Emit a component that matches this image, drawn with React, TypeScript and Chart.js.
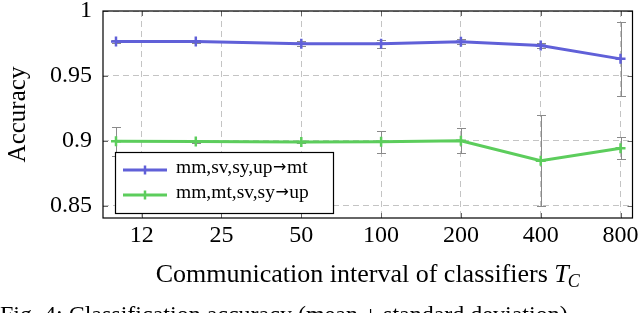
import React, { useEffect, useRef } from 'react';
import { Chart, registerables } from 'chart.js';

Chart.register(...registerables);

const xValues = [10, 20, 50, 100, 200, 400, 800];
const xTickValues = [12.5, 25, 50, 100, 200, 400, 800];
const xTickLabels = ['12', '25', '50', '100', '200', '400', '800'];
const yTickValues = [0.85, 0.9, 0.95, 1];
const yTickLabels = ['0.85', '0.9', '0.95', '1'];
const seriesLabels = ['mm,sv,sy,up→mt', 'mm,mt,sv,sy→up'];
const blueMean = [0.9765, 0.9765, 0.9747, 0.9747, 0.9763, 0.9734, 0.9631];
const blueStd = [0.0015, 0.001, 0.002, 0.003, 0.002, 0.0023, 0.0285];
const greenMean = [0.8995, 0.8993, 0.899, 0.8992, 0.9, 0.8845, 0.8941];
const greenStd = [0.011, 0.001, 0.001, 0.0085, 0.0098, 0.035, 0.0085];
const xTitle = 'Communication interval of classifiers ';
const xTitleVar = 'T';
const xTitleSub = 'C';
const yTitle = 'Accuracy';
const caption = 'Fig. 4: Classification accuracy (mean ± standard deviation)';

const SERIF = "'Liberation Serif', 'Times New Roman', serif";
const ARROW_FONT = "'DejaVu Sans', sans-serif";
const COLORS = ['#6060d8', '#5ccd5c'];

export default function App() {
  const ref = useRef<HTMLCanvasElement>(null);

  useEffect(() => {
    const canvas = ref.current;
    if (!canvas) return;
    const means = [blueMean, greenMean];
    const stds = [blueStd, greenStd];

    const errorBars = {
      id: 'errorBars',
      beforeDatasetsDraw(chart: any) {
        const { ctx, scales } = chart;
        const x = scales.x;
        const y = scales.y;
        ctx.save();
        ctx.strokeStyle = '#8a8a8a';
        ctx.lineWidth = 1;
        means.forEach((m, i) => {
          m.forEach((v, j) => {
            const px = Math.round(x.getPixelForValue(xValues[j])) + 0.5;
            const top = Math.round(y.getPixelForValue(v + stds[i][j])) + 0.5;
            const bot = Math.round(y.getPixelForValue(v - stds[i][j])) + 0.5;
            ctx.beginPath();
            ctx.moveTo(px, top);
            ctx.lineTo(px, bot);
            ctx.moveTo(px - 4.5, top);
            ctx.lineTo(px + 4.5, top);
            ctx.moveTo(px - 4.5, bot);
            ctx.lineTo(px + 4.5, bot);
            ctx.stroke();
          });
        });
        ctx.restore();
      },
    };

    const frame = {
      id: 'frame',
      afterDatasetsDraw(chart: any) {
        const { ctx, chartArea, scales } = chart;
        const { left, right, top, bottom } = chartArea;
        ctx.save();
        ctx.strokeStyle = '#666';
        ctx.lineWidth = 1;
        ctx.beginPath();
        xTickValues.forEach((v) => {
          const px = Math.round(scales.x.getPixelForValue(v)) + 0.5;
          ctx.moveTo(px, bottom);
          ctx.lineTo(px, bottom - 5);
          ctx.moveTo(px, top);
          ctx.lineTo(px, top + 5);
        });
        yTickValues.forEach((v) => {
          const py = Math.round(scales.y.getPixelForValue(v)) + 0.5;
          ctx.moveTo(left, py);
          ctx.lineTo(left + 5, py);
          ctx.moveTo(right, py);
          ctx.lineTo(right - 5, py);
        });
        ctx.stroke();
        ctx.strokeStyle = '#000';
        ctx.lineWidth = 1.2;
        ctx.strokeRect(left, top, right - left, bottom - top);
        ctx.restore();
      },
    };

    const xTitlePlugin = {
      id: 'xTitlePlugin',
      afterDraw(chart: any) {
        const { ctx, chartArea } = chart;
        const cx = (chartArea.left + chartArea.right) / 2;
        const baseY = chartArea.bottom + 64;
        ctx.save();
        ctx.fillStyle = '#000';
        ctx.textBaseline = 'alphabetic';
        ctx.textAlign = 'left';
        const mainFont = `26px ${SERIF}`;
        const varFont = `italic 26px ${SERIF}`;
        const subFont = `italic 18px ${SERIF}`;
        ctx.font = mainFont;
        const w1 = ctx.measureText(xTitle).width;
        ctx.font = varFont;
        const w2 = ctx.measureText(xTitleVar).width;
        ctx.font = subFont;
        const w3 = ctx.measureText(xTitleSub).width;
        const total = w1 + w2 + w3 - 1;
        let x = cx - total / 2;
        ctx.font = mainFont;
        ctx.fillText(xTitle, x, baseY);
        x += w1;
        ctx.font = varFont;
        ctx.fillText(xTitleVar, x, baseY);
        x += w2 - 1;
        ctx.font = subFont;
        ctx.fillText(xTitleSub, x, baseY + 5);
        ctx.restore();
      },
    };

    const legendBox = {
      id: 'legendBox',
      afterDraw(chart: any) {
        const { ctx, chartArea } = chart;
        const bx = chartArea.left + 12;
        const by = chartArea.bottom - 66;
        const bw = 218;
        const bh = 61;
        ctx.save();
        ctx.fillStyle = '#fff';
        ctx.fillRect(bx, by, bw, bh);
        ctx.strokeStyle = '#000';
        ctx.lineWidth = 1.2;
        ctx.strokeRect(bx + 0.5, by + 0.5, bw, bh);
        chart.data.datasets.forEach((ds: any, i: number) => {
          const cy = by + 18 + i * 25;
          ctx.strokeStyle = ds.borderColor;
          ctx.lineWidth = 3;
          ctx.beginPath();
          ctx.moveTo(bx + 8, cy);
          ctx.lineTo(bx + 52, cy);
          ctx.stroke();
          ctx.lineWidth = 2.5;
          ctx.beginPath();
          ctx.moveTo(bx + 30, cy - 4.5);
          ctx.lineTo(bx + 30, cy + 4.5);
          ctx.stroke();
          ctx.fillStyle = '#000';
          ctx.textBaseline = 'alphabetic';
          ctx.textAlign = 'left';
          const parts = String(ds.label).split('→');
          let tx = bx + 61;
          const ty = cy + 3;
          parts.forEach((p: string, k: number) => {
            ctx.font = `19.5px ${SERIF}`;
            ctx.fillText(p, tx, ty);
            tx += ctx.measureText(p).width;
            if (k < parts.length - 1) {
              ctx.font = `16px ${ARROW_FONT}`;
              ctx.fillText('→', tx + 0.5, ty - 1);
              tx += ctx.measureText('→').width + 1;
            }
          });
        });
        ctx.restore();
      },
    };

    const chart = new Chart(canvas, {
      type: 'line',
      data: {
        datasets: means.map((m, i) => ({
          label: seriesLabels[i],
          data: m.map((v, j) => ({ x: xValues[j], y: v })),
          borderColor: COLORS[i],
          backgroundColor: COLORS[i],
          borderWidth: 3,
          pointStyle: 'cross',
          pointRadius: 5,
          pointBorderWidth: 2.5,
          pointHoverRadius: 5,
          tension: 0,
          fill: false,
        })),
      },
      options: {
        animation: false,
        responsive: false,
        maintainAspectRatio: false,
        devicePixelRatio: 1,
        events: [],
        layout: { padding: { left: 0, right: 7, top: 11, bottom: 0 } },
        plugins: {
          legend: { display: false },
          tooltip: { enabled: false },
          title: { display: false },
        },
        scales: {
          x: {
            type: 'logarithmic',
            min: 8.933,
            max: 887.7,
            afterBuildTicks: (scale: any) => {
              scale.ticks = xTickValues.map((v) => ({ value: v }));
            },
            afterFit: (scale: any) => {
              scale.height = 95;
              scale.paddingLeft = 0;
              scale.paddingRight = 0;
            },
            ticks: {
              autoSkip: false,
              maxRotation: 0,
              padding: 3,
              color: '#000',
              font: { family: SERIF, size: 24 },
              callback: (_v: any, i: number) => xTickLabels[i],
            },
            grid: { color: '#c4c4c4', lineWidth: 1, drawTicks: false },
            border: { display: false, dash: [6, 4] },
            title: { display: false },
          },
          y: {
            type: 'linear',
            min: 0.8404,
            max: 1.0,
            afterBuildTicks: (scale: any) => {
              scale.ticks = yTickValues.map((v) => ({ value: v }));
            },
            afterFit: (scale: any) => {
              scale.width = 103;
              scale.paddingTop = 0;
              scale.paddingBottom = 0;
            },
            ticks: {
              padding: 11,
              color: '#000',
              font: { family: SERIF, size: 24 },
              callback: (_v: any, i: number) => yTickLabels[i],
            },
            grid: { color: '#c4c4c4', lineWidth: 1, drawTicks: false },
            border: { display: false, dash: [6, 4] },
            title: {
              display: true,
              text: yTitle,
              color: '#000',
              font: { family: SERIF, size: 25 },
              padding: { top: 3, bottom: 0 },
            },
          },
        },
      },
      plugins: [errorBars, frame, legendBox, xTitlePlugin],
    } as any);

    return () => chart.destroy();
  }, []);

  return (
    <div
      style={{
        position: 'absolute',
        left: 0,
        top: 0,
        width: 640,
        height: 313,
        overflow: 'hidden',
        background: '#fff',
      }}
    >
      <canvas ref={ref} width={640} height={313} style={{ position: 'absolute', left: 0, top: 0 }} />
      <div
        style={{
          position: 'absolute',
          left: 0,
          top: 300,
          fontFamily: SERIF,
          fontSize: 24,
          lineHeight: '28px',
          whiteSpace: 'nowrap',
          color: '#000',
        }}
      >
        {caption}
      </div>
    </div>
  );
}
